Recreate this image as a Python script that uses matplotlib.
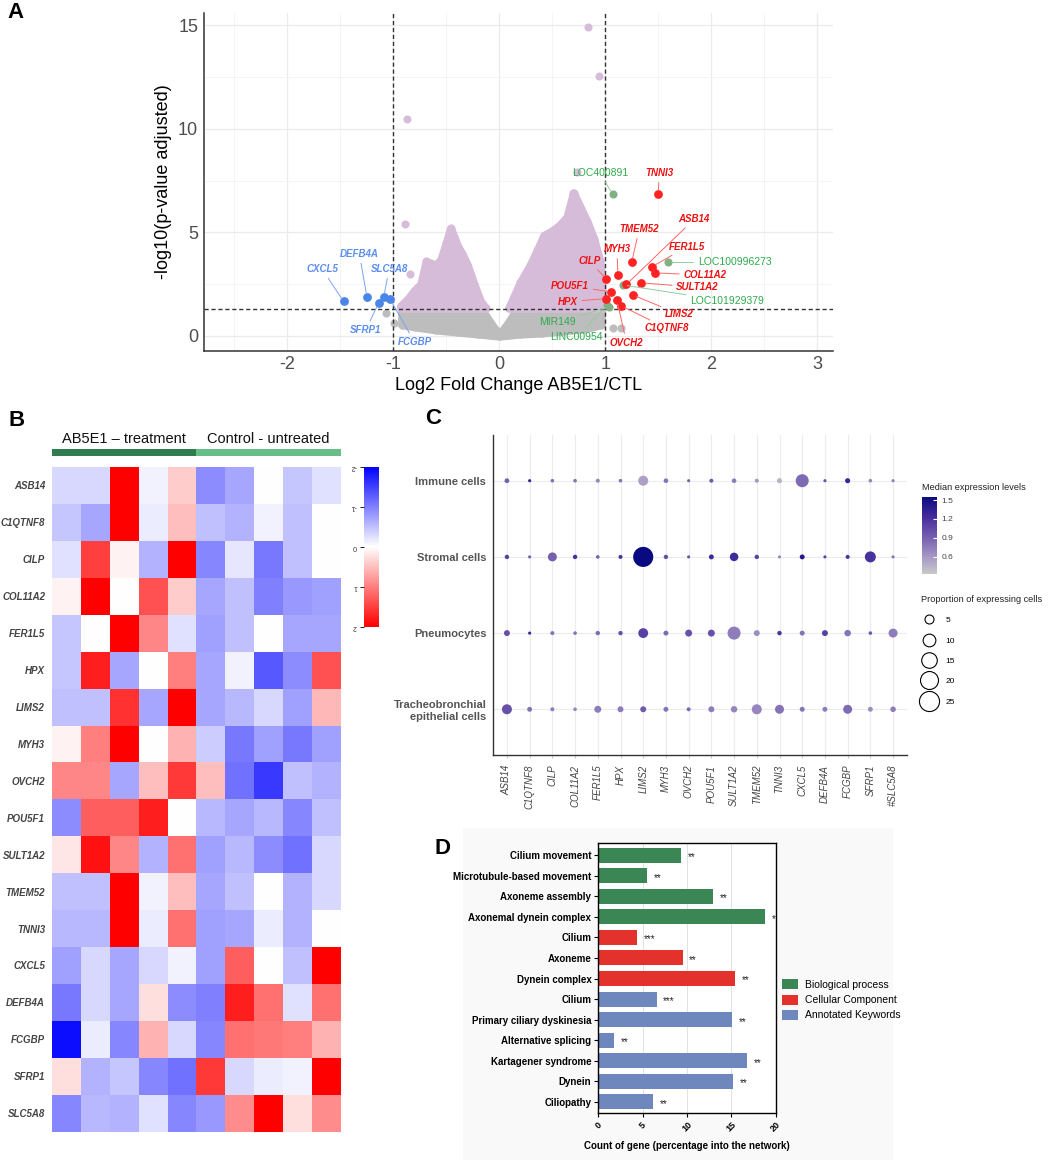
import numpy as np
import matplotlib.pyplot as plt
from matplotlib.colors import LinearSegmentedColormap, ListedColormap
from matplotlib.lines import Line2D
from matplotlib.patches import Patch, Rectangle

plt.rcParams['font.family'] = ['Liberation Sans', 'DejaVu Sans']
plt.rcParams['axes.unicode_minus'] = False

#%%
# ---------- panel A : volcano ----------
# dense clouds, read as envelopes (x, top / bottom of the point centres)
gray_x = [-0.92, -0.8, -0.6, -0.4, -0.2, -0.15, -0.08, 0.0, 0.08, 0.15, 0.2, 0.4, 0.6, 0.8, 0.96]
gray_top = [1.15, 1.2, 1.2, 1.2, 1.2, 1.15, 0.6, 0.05, 0.6, 1.15, 1.2, 1.2, 1.2, 1.2, 1.1]
gray_bot = [0.55, 0.45, 0.3, 0.2, 0.1, 0.08, 0.04, 0.0, 0.04, 0.08, 0.1, 0.15, 0.25, 0.35, 0.55]

lav_left_x = [-0.93, -0.86, -0.8, -0.74, -0.69, -0.64, -0.6, -0.55, -0.5, -0.46, -0.43, -0.39, -0.35, -0.3, -0.24, -0.18, -0.13]
lav_left_top = [1.45, 1.8, 2.2, 2.5, 3.6, 3.5, 3.4, 3.7, 4.5, 5.2, 4.8, 4.3, 3.95, 3.4, 2.5, 1.7, 1.35]
lav_right_x = [0.09, 0.13, 0.2, 0.29, 0.36, 0.42, 0.51, 0.58, 0.64, 0.7, 0.76, 0.83, 0.89, 0.95, 0.98]
lav_right_top = [1.35, 1.8, 2.6, 3.4, 4.15, 4.85, 5.1, 5.4, 5.75, 6.9, 6.25, 5.5, 4.7, 3.6, 1.6]
thr = 1.3

# isolated points
lav_x = [-0.87, -0.89, -0.84, 0.84, 0.94, 0.73, 0.71]
lav_y = [10.48, 5.4, 2.98, 14.9, 12.58, 7.9, 6.9]
ns_x = [-1.07, -0.99, 1.07, 1.15]
ns_y = [1.09, 0.61, 0.40, 0.37]

up_genes = ['TNNI3', 'TMEM52', 'FER1L5', 'COL11A2', 'MYH3', 'CILP', 'SULT1A2', 'ASB14',
            'POU5F1', 'LIMS2', 'HPX', 'OVCH2', 'C1QTNF8']
up_fc = [1.50, 1.25, 1.44, 1.47, 1.12, 1.01, 1.34, 1.20, 1.05, 1.26, 1.01, 1.11, 1.15]
up_p = [6.84, 3.57, 3.34, 3.05, 2.96, 2.75, 2.57, 2.49, 2.14, 1.98, 1.81, 1.74, 1.46]
up_lx = [1.51, 1.32, 1.77, 1.94, 1.11, 0.85, 1.87, 1.84, 0.67, 1.70, 0.65, 1.20, 1.58]
up_ly = [7.85, 5.15, 4.31, 2.94, 4.18, 3.63, 2.35, 5.64, 2.41, 1.05, 1.65, -0.32, 0.37]

down_genes = ['CXCL5', 'DEFB4A', 'SLC5A8', 'SFRP1', 'FCGBP']
down_fc = [-1.47, -1.25, -1.09, -1.14, -1.03]
down_p = [1.67, 1.9, 1.9, 1.59, 1.77]
down_lx = [-1.67, -1.32, -1.04, -1.26, -0.80]
down_ly = [3.22, 3.96, 3.22, 0.29, -0.29]

lnc_genes = ['LOC400891', 'LOC100996273', 'LOC101929379', 'LINC00954', 'MIR149']
lnc_fc = [1.07, 1.59, 1.17, 1.02, 1.04]
lnc_p = [6.84, 3.55, 2.46, 1.5, 1.42]
lnc_lx = [0.95, 2.22, 2.15, 0.73, 0.55]
lnc_ly = [7.88, 3.55, 1.69, -0.06, 0.66]

# ---------- panel B : heatmap ----------
hm_genes = ['ASB14', 'C1QTNF8', 'CILP', 'COL11A2', 'FER1L5', 'HPX', 'LIMS2', 'MYH3', 'OVCH2',
            'POU5F1', 'SULT1A2', 'TMEM52', 'TNNI3', 'CXCL5', 'DEFB4A', 'FCGBP', 'SFRP1', 'SLC5A8']
hm_groups = ['AB5E1 – treatment'] * 5 + ['Control - untreated'] * 5
hm_vals = [
    [-0.3, -0.3, 2, -0.1, 0.4, -0.9, -0.7, 0, -0.45, -0.25],
    [-0.45, -0.7, 2, -0.15, 0.5, -0.5, -0.6, -0.1, -0.5, 0],
    [-0.25, 1.5, 0.1, -0.6, 2, -0.95, -0.2, -1.05, -0.5, 0],
    [0.1, 2, 0, 1.35, 0.4, -0.7, -0.5, -1.0, -0.8, -0.75],
    [-0.45, 0, 2, 0.95, -0.25, -0.75, -0.5, 0, -0.7, -0.7],
    [-0.45, 1.75, -0.7, 0, 1.0, -0.7, -0.1, -1.3, -0.9, 1.35],
    [-0.5, -0.5, 1.6, -0.7, 2, -0.7, -0.55, -0.3, -0.75, 0.55],
    [0.1, 1.0, 2, 0, 0.6, -0.4, -1.05, -0.75, -1.05, -0.75],
    [0.95, 0.95, -0.7, 0.5, 1.55, 0.5, -1.1, -1.55, -0.5, -0.6],
    [-0.9, 1.25, 1.25, 1.75, 0, -0.55, -0.7, -0.55, -0.95, -0.5],
    [0.2, 1.85, 0.95, -0.6, 1.1, -0.75, -0.55, -0.9, -1.1, -0.3],
    [-0.5, -0.5, 2, -0.1, 0.5, -0.7, -0.5, 0, -0.6, -0.3],
    [-0.55, -0.55, 2, -0.15, 1.1, -0.75, -0.7, -0.15, -0.6, 0],
    [-0.75, -0.3, -0.7, -0.3, -0.1, -0.75, 1.25, 0, -0.5, 2],
    [-1.05, -0.3, -0.7, 0.25, -0.9, -1.0, 1.75, 1.1, -0.25, 1.1],
    [-1.9, -0.15, -0.95, 0.6, -0.3, -0.95, 1.1, 1.05, 1.0, 0.6],
    [0.25, -0.6, -0.45, -0.95, -1.1, 1.55, -0.3, -0.15, -0.1, 2],
    [-0.95, -0.55, -0.6, -0.25, -0.95, -0.8, 0.9, 2, 0.25, 0.9],
]

# ---------- panel C : dot plot ----------
cell_types = ['Immune cells', 'Stromal cells', 'Pneumocytes', 'Tracheobronchial\nepithelial cells']
dot_genes = ['ASB14', 'C1QTNF8', 'CILP', 'COL11A2', 'FER1L5', 'HPX', 'LIMS2', 'MYH3', 'OVCH2',
             'POU5F1', 'SULT1A2', 'TMEM52', 'TNNI3', 'CXCL5', 'DEFB4A', 'FCGBP', 'SFRP1', '#SLC5A8']
prop_immune = [1.4, 0.6, 0.8, 0.8, 1.0, 0.8, 6.2, 1.3, 0.6, 1.0, 1.3, 1.0, 1.6, 10.5, 0.6, 1.6, 0.8, 0.6]
expr_immune = [0.9, 1.35, 0.8, 0.8, 0.7, 0.8, 0.55, 0.8, 0.9, 0.95, 0.75, 0.6, 0.45, 0.85, 1.0, 1.3, 0.7, 0.75]
prop_stromal = [1.2, 0.6, 5.0, 1.2, 0.8, 1.0, 25, 1.2, 0.6, 1.5, 4.5, 1.2, 0.6, 1.5, 0.6, 1.0, 7.5, 0.6]
expr_stromal = [1.1, 0.9, 0.9, 1.2, 0.9, 1.2, 1.55, 1.0, 1.0, 1.25, 1.25, 1.1, 0.7, 1.4, 1.1, 1.2, 1.2, 0.8]
prop_pneumo = [2.2, 0.6, 1.0, 0.8, 1.2, 1.2, 6.0, 1.5, 3.0, 3.0, 10.5, 2.2, 1.2, 1.5, 2.2, 2.6, 0.8, 5.0]
expr_pneumo = [1.0, 1.3, 0.8, 0.8, 0.85, 1.0, 1.1, 0.85, 1.0, 1.0, 0.75, 0.65, 1.2, 0.8, 1.1, 0.8, 0.95, 0.75]
prop_trach = [6.2, 1.5, 1.0, 0.8, 3.0, 2.2, 2.2, 1.5, 1.0, 2.2, 2.6, 6.2, 5.0, 1.5, 1.5, 5.0, 1.5, 1.9]
expr_trach = [1.0, 0.8, 0.75, 0.7, 0.75, 0.75, 0.95, 0.8, 0.85, 0.75, 0.7, 0.7, 0.8, 0.8, 0.75, 0.85, 0.65, 0.75]
size_breaks = [5, 10, 15, 20, 25]

# ---------- panel D : enrichment bars ----------
go_terms = ['Cilium movement', 'Microtubule-based movement', 'Axoneme assembly', 'Axonemal dynein complex',
            'Cilium', 'Axoneme', 'Dynein complex', 'Cilium', 'Primary ciliary dyskinesia',
            'Alternative splicing', 'Kartagener syndrome', 'Dynein', 'Ciliopathy']
go_counts = [9.32, 5.46, 12.97, 18.83, 4.33, 9.51, 15.45, 6.58, 15.11, 1.77, 16.76, 15.22, 6.2]
go_stars = ['**', '**', '**', '*', '***', '**', '**', '***', '**', '**', '**', '**', '**']
go_group = ['Biological process'] * 4 + ['Cellular Component'] * 3 + ['Annotated Keywords'] * 6
group_names = ['Biological process', 'Cellular Component', 'Annotated Keywords']
group_cols = {'Biological process': '#3a8654', 'Cellular Component': '#e3322c', 'Annotated Keywords': '#6e88bd'}

#%%
W, H = 1052, 1160
fig = plt.figure(figsize=(10.52, 11.6), dpi=100)


def box(x0, y0, x1, y1):
    # pixel box (top-left origin) -> figure rect
    return [x0 / W, 1 - y1 / H, (x1 - x0) / W, (y1 - y0) / H]


def ftext(x, y, s, **kw):
    fig.text(x / W, 1 - y / H, s, **kw)


# ---- A ----
ax_a = fig.add_axes(box(203.7, 13, 833, 350.7))
ax_a.set_xlim(-2.79, 3.15)
ax_a.set_ylim(-0.71, 15.6)
ax_a.set_xticks(range(-2, 4))
ax_a.set_xticks(np.arange(-2.5, 3.5, 1), minor=True)
ax_a.set_yticks([0, 5, 10, 15])
ax_a.set_yticks([2.5, 7.5, 12.5], minor=True)
ax_a.grid(which='major', color='#ebebeb', lw=0.9)
ax_a.grid(which='minor', color='#f3f3f3', lw=0.6)
ax_a.set_axisbelow(True)
ax_a.tick_params(which='both', length=0, labelsize=13, labelcolor='#4d4d4d', pad=4)
for s in ['top', 'right']:
    ax_a.spines[s].set_visible(False)
for s in ['left', 'bottom']:
    ax_a.spines[s].set_color('#333333')
    ax_a.spines[s].set_linewidth(1.1)
ax_a.set_xlabel('Log2 Fold Change AB5E1/CTL', fontsize=13, labelpad=3)
ax_a.set_ylabel('-log10(p-value adjusted)', fontsize=13, labelpad=4)

dot = 34
gcol = '#bdbdbd'
lcol = '#d6bcd9'
ax_a.fill_between(gray_x, gray_bot, gray_top, facecolor=gcol, edgecolor=gcol, lw=6, joinstyle='round', zorder=2)
ax_a.scatter(gray_x + gray_x, gray_top + gray_bot, s=dot, color=gcol, lw=0, zorder=2)
ax_a.scatter(ns_x, ns_y, s=dot, color=gcol, lw=0, zorder=2)
for lx_, ly_ in [(lav_left_x, lav_left_top), (lav_right_x, lav_right_top)]:
    ax_a.fill_between(lx_, [thr + 0.05] * len(lx_), ly_, facecolor=lcol, edgecolor=lcol, lw=6,
                      joinstyle='round', zorder=3)
    ax_a.scatter(lx_, ly_, s=dot, color=lcol, lw=0, zorder=3)
ax_a.scatter(lav_x, lav_y, s=dot, color=lcol, lw=0, zorder=3)

ax_a.axhline(thr, color='#333333', lw=1.0, ls=(0, (3, 2)), zorder=4)
ax_a.axvline(-1, color='#333333', lw=1.0, ls=(0, (3, 2)), zorder=4)
ax_a.axvline(1, color='#333333', lw=1.0, ls=(0, (3, 2)), zorder=4)

ax_a.scatter(lnc_fc, lnc_p, s=dot, color='#80b083', lw=0, zorder=5)
ax_a.scatter(up_fc, up_p, s=dot + 6, color='#ff2222', lw=0, zorder=6)
ax_a.scatter(down_fc, down_p, s=dot + 6, color='#4a86e8', lw=0, zorder=6)

for g, x, y, lx, ly in zip(up_genes, up_fc, up_p, up_lx, up_ly):
    ax_a.annotate(g, xy=(x, y), xytext=(lx, ly), color='#ee1111', fontsize=7, fontweight='bold',
                  fontstyle='italic', ha='center', va='center', zorder=7,
                  arrowprops=dict(arrowstyle='-', color='#ff6666', lw=0.7, shrinkA=1, shrinkB=3))
for g, x, y, lx, ly in zip(down_genes, down_fc, down_p, down_lx, down_ly):
    ax_a.annotate(g, xy=(x, y), xytext=(lx, ly), color='#5b8def', fontsize=7, fontweight='bold',
                  fontstyle='italic', ha='center', va='center', zorder=7,
                  arrowprops=dict(arrowstyle='-', color='#7aa3f0', lw=0.7, shrinkA=1, shrinkB=3))
for g, x, y, lx, ly in zip(lnc_genes, lnc_fc, lnc_p, lnc_lx, lnc_ly):
    ax_a.annotate(g, xy=(x, y), xytext=(lx, ly), color='#2eaa4c', fontsize=7.5,
                  ha='center', va='center', zorder=7,
                  arrowprops=dict(arrowstyle='-', color='#8fcf9b', lw=0.7, shrinkA=1, shrinkB=3))

# ---- B ----
ax_b = fig.add_axes(box(52, 466.7, 341, 1131.7))
im = ax_b.imshow(np.array(hm_vals), cmap='bwr', vmin=-2, vmax=2, aspect='auto', interpolation='nearest')
ax_b.set_yticks(range(len(hm_genes)))
ax_b.set_yticklabels(hm_genes, fontsize=7, fontweight='bold', fontstyle='italic', color='#444444')
ax_b.set_xticks([])
ax_b.tick_params(length=0, pad=5)
for s in ax_b.spines.values():
    s.set_visible(False)

ax_ann = fig.add_axes(box(52, 449.3, 341, 456.3))
grp_idx = [0 if g == hm_groups[0] else 1 for g in hm_groups]
ax_ann.imshow([grp_idx], cmap=ListedColormap(['#2f7d4f', '#67be86']), aspect='auto', vmin=0, vmax=1)
ax_ann.set_axis_off()
for gname in [hm_groups[0], hm_groups[-1]]:
    cols = [i for i, g in enumerate(hm_groups) if g == gname]
    ax_ann.text(np.mean(cols), -1.9, gname, ha='center', va='center', fontsize=10.5, color='#111111')

cax_b = fig.add_axes(box(364, 466.5, 379.3, 626.7))
cb = fig.colorbar(im, cax=cax_b, ticks=[-2, -1, 0, 1, 2])
cb.outline.set_visible(False)
cax_b.invert_yaxis()
cax_b.yaxis.set_ticks_position('left')
cax_b.tick_params(length=3, width=0.6, labelsize=5, labelcolor='#333333', pad=2)
for t in cax_b.get_yticklabels():
    t.set_rotation(180)
    t.set_va('center')

# ---- C ----
ax_c = fig.add_axes(box(493.3, 435, 906.7, 755))
cmap_c = LinearSegmentedColormap.from_list('expr', [(0, '#c9c9c9'), (0.225, '#a597c6'), (0.47, '#7760b0'),
                                                    (0.715, '#4a319f'), (1, '#0a0a80')])
area_k = 8.37
rows_prop = [prop_immune, prop_stromal, prop_pneumo, prop_trach]
rows_expr = [expr_immune, expr_stromal, expr_pneumo, expr_trach]
xs = np.arange(len(dot_genes))
for i, (pr, ex) in enumerate(zip(rows_prop, rows_expr)):
    sc = ax_c.scatter(xs, [i] * len(xs), s=np.array(pr) * area_k, c=ex, cmap=cmap_c,
                      vmin=0.325, vmax=1.548, lw=0, zorder=3)
ax_c.set_xlim(-0.6, len(dot_genes) - 0.4)
ax_c.set_ylim(3.6, -0.6)
ax_c.set_xticks(xs)
ax_c.set_xticklabels(dot_genes, rotation=90, fontsize=7, fontstyle='italic', color='#444444')
ax_c.set_yticks(range(4))
ax_c.set_yticklabels(cell_types, fontsize=8, fontweight='bold', color='#555555')
ax_c.tick_params(axis='x', length=2, color='#cccccc', pad=5)
ax_c.tick_params(axis='y', length=0, pad=5)
ax_c.grid(color='#ececec', lw=0.8)
ax_c.set_axisbelow(True)
for s in ['top', 'right']:
    ax_c.spines[s].set_visible(False)
for s in ['left', 'bottom']:
    ax_c.spines[s].set_color('#333333')
    ax_c.spines[s].set_linewidth(1.0)

ftext(922, 488, 'Median expression levels', fontsize=6.6, color='#222222', va='center')
cax_c = fig.add_axes(box(922, 497, 937, 574))
cbc = fig.colorbar(sc, cax=cax_c, ticks=[0.6, 0.9, 1.2, 1.5])
cbc.outline.set_visible(False)
cax_c.tick_params(length=3, color='white', direction='in', labelsize=6, labelcolor='#444444', pad=3)

size_handles = [Line2D([], [], ls='', marker='o', mfc='none', mec='black', mew=0.8,
                       markersize=np.sqrt(v * area_k)) for v in size_breaks]
leg_c = ax_c.legend(size_handles, [str(v) for v in size_breaks], title='Proportion of expressing cells',
                    loc='upper left', bbox_to_anchor=(1.03, 0.505), frameon=False, fontsize=6,
                    title_fontsize=6.6, labelspacing=1.5, handletextpad=1.0, borderaxespad=0,
                    borderpad=0.2, alignment='left')
leg_c.get_title().set_color('#222222')

# ---- D ----
fig.add_artist(Rectangle((463 / W, 0), (893 - 463) / W, (1160 - 828) / H, transform=fig.transFigure,
                         facecolor='#f9f9f9', edgecolor='none', zorder=-1))
ax_d = fig.add_axes(box(598.3, 843.3, 775.7, 1113.3))
ax_d.set_facecolor('white')
ypos = np.arange(len(go_terms))
ax_d.barh(ypos, go_counts, height=0.73, color=[group_cols[g] for g in go_group], zorder=2)
for y, c, st in zip(ypos, go_counts, go_stars):
    ax_d.text(c + 0.75, y + 0.1, st, fontsize=7, ha='left', va='center', color='#222222')
ax_d.set_xlim(0, 20)
ax_d.set_ylim(12.55, -0.57)
ax_d.set_yticks(ypos)
ax_d.set_yticklabels(go_terms, fontsize=7, fontweight='bold')
ax_d.set_xticks([0, 5, 10, 15, 20])
ax_d.set_xticklabels(['0', '5', '10', '15', '20'], rotation=45, fontsize=6.5, fontweight='bold')
ax_d.tick_params(length=3, width=0.8, pad=2)
ax_d.grid(axis='x', color='#e2e2e2', lw=0.7)
ax_d.set_axisbelow(True)
for s in ax_d.spines.values():
    s.set_linewidth(1.0)
ax_d.set_xlabel('Count of gene (percentage into the network)', fontsize=7, fontweight='bold', labelpad=5)
ax_d.legend([Patch(facecolor=group_cols[g]) for g in group_names], group_names, loc='center left',
            bbox_to_anchor=(1.01, 0.42), frameon=False, fontsize=7.5, handlelength=1.6,
            handleheight=1.1, labelspacing=0.45, handletextpad=0.6, borderaxespad=0)

# panel letters
ftext(16, 13, 'A', fontsize=16, fontweight='bold', ha='center', va='center')
ftext(17, 421, 'B', fontsize=16, fontweight='bold', ha='center', va='center')
ftext(433, 419, 'C', fontsize=16, fontweight='bold', ha='center', va='center')
ftext(442, 848, 'D', fontsize=16, fontweight='bold', ha='center', va='center')

fig.savefig('out.png', dpi=100)
